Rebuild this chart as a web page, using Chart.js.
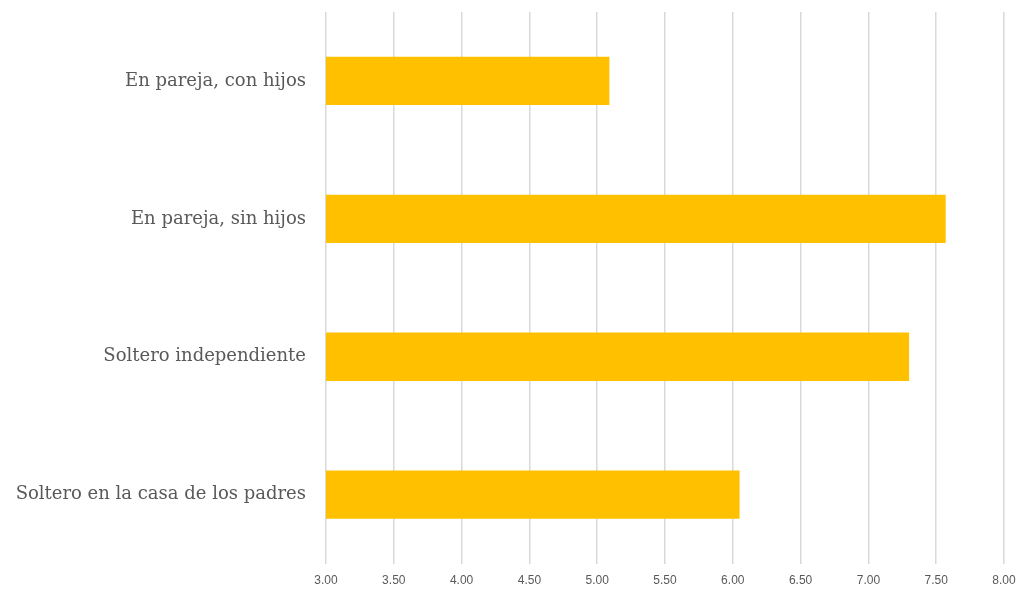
<!DOCTYPE html>
<html>
<head>
<meta charset="utf-8">
<script src="https://cdn.jsdelivr.net/npm/chart.js@4"></script>
<style>
  html, body { margin: 0; padding: 0; background: #fff; }
  #wrap { width: 1020px; height: 594px; position: relative; }
</style>
</head>
<body>
<div id="wrap"><canvas id="chart"></canvas></div>
<script>
const categories = [
  "En pareja, con hijos",
  "En pareja, sin hijos",
  "Soltero independiente",
  "Soltero en la casa de los padres"
];
const values = [5.09, 7.57, 7.30, 6.05];
const xMin = 3;
const xMax = 8;
const xStep = 0.5;

const ctx = document.getElementById("chart").getContext("2d");
new Chart(ctx, {
  type: "bar",
  data: {
    labels: categories,
    datasets: [
      {
        data: values,
        backgroundColor: "#FFC000",
        borderWidth: 0,
        barPercentage: 0.7,
        categoryPercentage: 0.5
      }
    ]
  },
  options: {
    indexAxis: "y",
    responsive: true,
    maintainAspectRatio: false,
    animation: false,
    layout: {
      padding: { top: 12, right: 16, bottom: -4, left: 0 }
    },
    plugins: {
      legend: { display: false },
      tooltip: { enabled: false }
    },
    scales: {
      x: {
        min: xMin,
        max: xMax,
        border: { display: false },
        grid: {
          color: "#d9d9d9",
          lineWidth: 1.5,
          drawTicks: false
        },
        ticks: {
          stepSize: xStep,
          padding: 10,
          color: "#595959",
          font: { family: "Liberation Sans Narrow, Liberation Sans", size: 12 },
          callback: (v) => Number(v).toFixed(2)
        },
        afterFit: (scale) => {
          scale.paddingLeft = 0;
          scale.paddingRight = 0;
        }
      },
      y: {
        border: { display: false },
        grid: { display: false, drawTicks: false },
        ticks: {
          padding: 20,
          color: "#595959",
          font: { family: "DejaVu Serif", size: 18 }
        },
        afterFit: (scale) => {
          scale.width = 326;
          scale.paddingTop = 0;
          scale.paddingBottom = 0;
        }
      }
    }
  }
});
</script>
</body>
</html>
